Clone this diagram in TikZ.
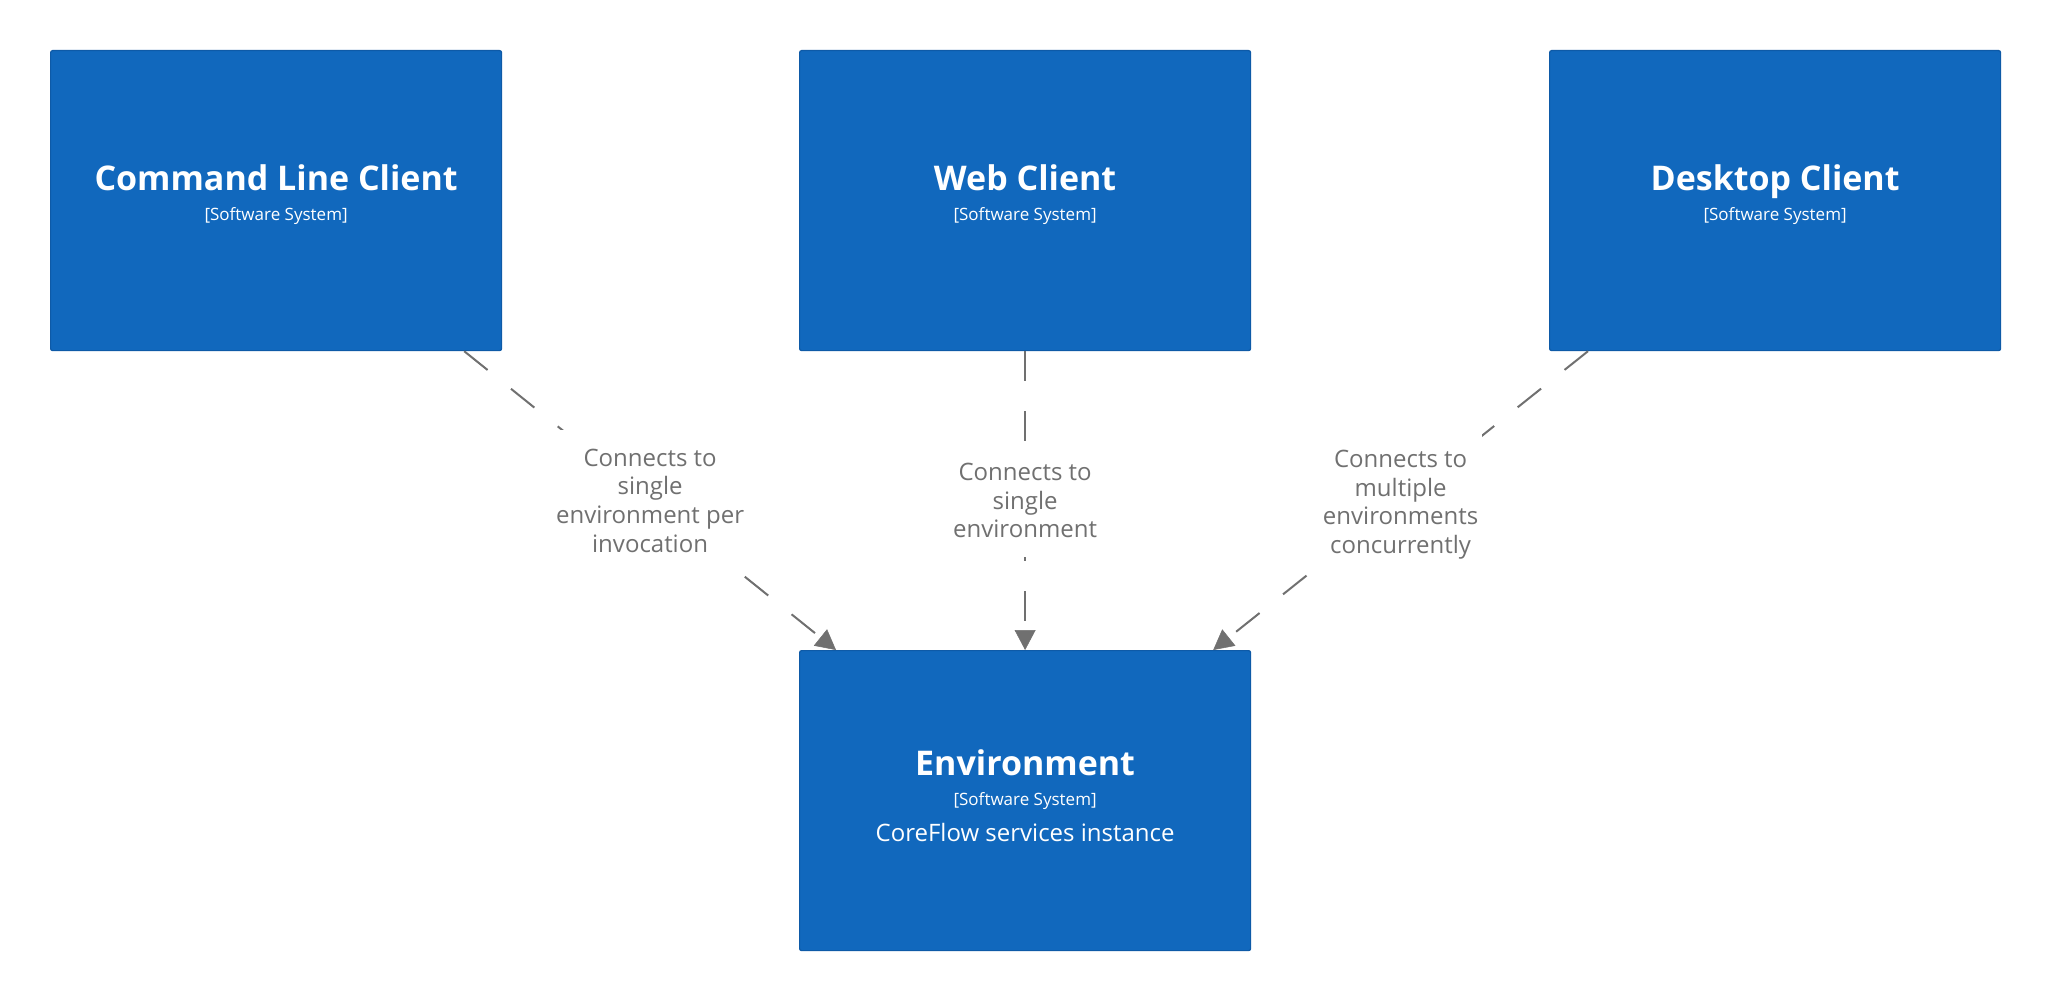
\documentclass[tikz,border=0pt]{standalone}
\usepackage{fontspec}
\setmainfont{Open Sans}
\usetikzlibrary{arrows.meta}
\definecolor{boxblue}{HTML}{1168BD}
\definecolor{boxedge}{HTML}{0E5AA7}
\definecolor{relgrey}{HTML}{707070}
\begin{document}
\begin{tikzpicture}[x=1pt,y=-1pt,
  sysbox/.style={draw=boxedge, fill=boxblue, line width=1.2pt, rounded corners=2pt,
    minimum width=451pt, minimum height=300pt, inner sep=0pt, anchor=north west},
  titletext/.style={text=white, font=\fontsize{34}{40}\selectfont\bfseries, anchor=base, inner sep=0pt},
  metatext/.style={text=white, font=\fontsize{17}{20}\selectfont, anchor=base, inner sep=0pt},
  desctext/.style={text=white, font=\fontsize{24}{29}\selectfont, anchor=base, inner sep=0pt},
  rel/.style={draw=relgrey, line width=2pt, dash pattern=on 30pt off 30pt,
    -{Triangle[length=20pt,width=21pt,fill=relgrey,line width=0.5pt]}},
  rellabel/.style={fill=white, text=relgrey, font=\fontsize{24}{28.7}\selectfont,
    align=center, inner xsep=4pt, inner ysep=19pt}
]
\useasboundingbox (0,0) rectangle (2050,1000);

\node[sysbox] (cl) at (50,50) {};
\node[sysbox] (web) at (799,50) {};
\node[sysbox] (dc) at (1549,50) {};
\node[sysbox] (env) at (799,650) {};

\node[titletext] (cl-t) at ([yshift=10pt]cl.center) {Command Line Client};
\node[metatext] (cl-m) at ([yshift=-20pt]cl.center) {[Software System]};
\node[titletext] (web-t) at ([yshift=10pt]web.center) {Web Client};
\node[metatext] (web-m) at ([yshift=-20pt]web.center) {[Software System]};
\node[titletext] (dc-t) at ([yshift=10pt]dc.center) {Desktop Client};
\node[metatext] (dc-m) at ([yshift=-20pt]dc.center) {[Software System]};
\node[titletext] (env-t) at ([yshift=25pt]env.center) {Environment};
\node[metatext] (env-m) at ([yshift=-5pt]env.center) {[Software System]};
\node[desctext] (env-d) at ([yshift=-41pt]env.center) {CoreFlow services instance};

\draw[rel] ([xshift=-38pt]cl.south east) -- node[rellabel] (l1) {Connects to\\single\\environment per\\invocation} ([xshift=37pt]env.north west);
\draw[rel] (web.south) -- node[rellabel] (l2) {Connects to\\single\\environment} (env.north);
\draw[rel] ([xshift=39pt]dc.south west) -- node[rellabel, yshift=-4pt] (l3) {Connects to\\multiple\\environments\\concurrently} ([xshift=-38pt]env.north east);
\end{tikzpicture}
\end{document}
